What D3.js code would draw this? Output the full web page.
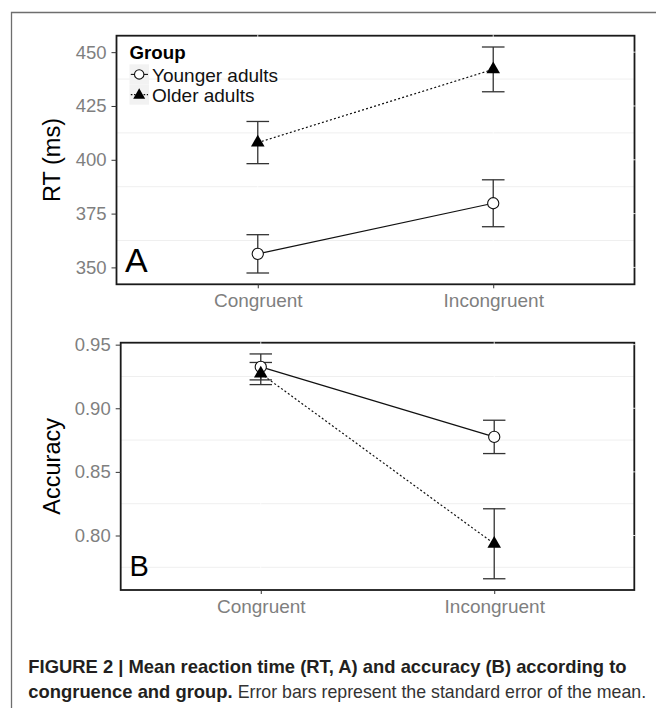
<!DOCTYPE html>
<html><head><meta charset="utf-8">
<script src="https://cdn.jsdelivr.net/npm/d3@7"></script>
<style>body{margin:0;background:#fff}svg{display:block}</style>
</head><body>
<script>
// ---- data ----
const categories = ["Congruent", "Incongruent"];
const groups = ["Younger adults", "Older adults"];
const rtYounger = [356.3, 379.8];
const rtYoungerSE = [8.9, 10.9];
const rtOlder = [408.0, 442.0];
const rtOlderSE = [9.8, 10.4];
const accYounger = [0.9325, 0.8775];
const accYoungerSE = [0.0102, 0.0131];
const accOlder = [0.9273, 0.7935];
const accOlderSE = [0.0087, 0.0275];
const rtTicks = [350, 375, 400, 425, 450];
const accTicks = [0.80, 0.85, 0.90, 0.95];
const legendTitle = "Group";
const captionBold1 = "FIGURE 2 | Mean reaction time (RT, A) and accuracy (B) according to";
const captionBold2 = "congruence and group.";
const captionRest2 = "Error bars represent the standard error of the mean.";

const FONT = "'Liberation Sans', Arial, Helvetica, sans-serif";
const W = 656, H = 708;
const svg = d3.select("body").append("svg").attr("width", W).attr("height", H)
  .style("font-family", FONT);
svg.append("rect").attr("width", W).attr("height", H).attr("fill", "#fff");

// outer frame (extends beyond right/bottom)
svg.append("path").attr("d", `M11.5,${H + 5}V12.5H${W + 5}`)
  .attr("fill", "none").attr("stroke", "#6e6e6e").attr("stroke-width", 1.3);

function drawSymbol(g, kind, cx, cy, size) {
  if (kind === 0) {
    g.append("circle").attr("cx", cx).attr("cy", cy).attr("r", size)
      .attr("fill", "#fff").attr("stroke", "#111").attr("stroke-width", 1.1);
  } else {
    g.append("path").attr("d", d3.symbol(d3.symbolTriangle, size)())
      .attr("transform", `translate(${cx},${cy})`).attr("fill", "#000");
  }
}

function drawPanel(o) {
  const g = svg.append("g");
  const x = d3.scalePoint().domain(categories).range([o.left, o.right]).padding(0.6);
  const all = [];
  o.series.forEach(s => s.mean.forEach((m, i) => { all.push(m - s.se[i]); all.push(m + s.se[i]); }));
  const lo = d3.min(all), hi = d3.max(all), pad = (hi - lo) * 0.05;
  const y = d3.scaleLinear().domain([lo - pad, hi + pad]).range([o.bottom, o.top]);

  // minor grid
  const step = o.ticks[1] - o.ticks[0];
  const minor = [];
  for (let k = -1; k < o.ticks.length; k++) {
    const t = o.ticks[0] + step * (k + 0.5);
    if (t >= y.domain()[0] && t <= y.domain()[1]) minor.push(t);
  }
  g.selectAll(".minor").data(minor).join("line")
    .attr("x1", o.left).attr("x2", o.right)
    .attr("y1", d => y(d)).attr("y2", d => y(d))
    .attr("stroke", "#efefef").attr("stroke-width", 1);

  // border
  g.append("rect").attr("x", o.left).attr("y", o.top)
    .attr("width", o.right - o.left).attr("height", o.bottom - o.top)
    .attr("fill", "none").attr("stroke", "#1a1a1a").attr("stroke-width", 1.8);

  // white major grid (visible as notches on the border)
  g.selectAll(".majh").data(o.ticks).join("line")
    .attr("x1", o.left + 1.5).attr("x2", o.right + 1.2)
    .attr("y1", d => y(d)).attr("y2", d => y(d))
    .attr("stroke", "#fff").attr("stroke-width", 0.8);
  g.selectAll(".majv").data(categories).join("line")
    .attr("x1", d => x(d)).attr("x2", d => x(d))
    .attr("y1", o.top - 1.2).attr("y2", o.bottom - 1.5)
    .attr("stroke", "#fff").attr("stroke-width", 0.8);

  // axes
  g.append("g").attr("transform", `translate(${o.left},0)`)
    .call(d3.axisLeft(y).tickValues(o.ticks).tickFormat(o.fmt).tickSize(5).tickPadding(5))
    .call(a => {
      a.select(".domain").remove();
      a.selectAll("line").attr("stroke", "#333").attr("stroke-width", 1);
      a.selectAll("text").attr("fill", "#7f7f7f").attr("font-size", 18.5).attr("font-family", FONT);
    });
  g.append("g").attr("transform", `translate(0,${o.bottom})`)
    .call(d3.axisBottom(x).tickSize(4).tickPadding(5.5))
    .call(a => {
      a.select(".domain").remove();
      a.selectAll("line").attr("stroke", "#333").attr("stroke-width", 1);
      a.selectAll("text").attr("fill", "#7f7f7f").attr("font-size", 19).attr("font-family", FONT);
    });

  // axis title
  g.append("text").attr("transform", `translate(59.5,${(o.top + o.bottom) / 2}) rotate(-90)`)
    .attr("text-anchor", "middle").attr("font-size", 23.5).attr("fill", "#000").text(o.title);

  // panel letter
  g.append("text").attr("x", o.letterX).attr("y", o.letterY)
    .attr("font-size", o.letterSize).attr("fill", "#000").text(o.letter);

  const capHalf = x.step() * 0.048;
  o.series.forEach((s, si) => {
    const pts = categories.map((c, i) => ({ c, m: s.mean[i], se: s.se[i] }));
    g.append("path").datum(pts)
      .attr("d", d3.line().x(d => x(d.c)).y(d => y(d.m)))
      .attr("fill", "none").attr("stroke", "#111").attr("stroke-width", 1.2)
      .attr("stroke-dasharray", si === 1 ? "2,2.2" : null);
  });
  o.series.forEach((s, si) => {
    categories.forEach((c, i) => {
      const cx = x(c), y1 = y(s.mean[i] - s.se[i]), y2 = y(s.mean[i] + s.se[i]);
      const eb = g.append("g").attr("stroke", "#333").attr("stroke-width", 1.3);
      eb.append("line").attr("x1", cx).attr("x2", cx).attr("y1", y1).attr("y2", y2);
      eb.append("line").attr("x1", cx - capHalf).attr("x2", cx + capHalf).attr("y1", y1).attr("y2", y1);
      eb.append("line").attr("x1", cx - capHalf).attr("x2", cx + capHalf).attr("y1", y2).attr("y2", y2);
    });
  });
  o.series.forEach((s, si) => {
    categories.forEach((c, i) => {
      drawSymbol(g, si, x(c), y(s.mean[i]), si === 0 ? 5.6 : 80);
    });
  });
  return g;
}

drawPanel({
  left: 116.5, right: 634.5, top: 35.7, bottom: 284.3,
  ticks: rtTicks, fmt: d3.format("d"), title: "RT (ms)",
  letter: "A", letterX: 125, letterY: 271.5, letterSize: 34,
  series: [{ mean: rtYounger, se: rtYoungerSE }, { mean: rtOlder, se: rtOlderSE }]
});
drawPanel({
  left: 120.7, right: 634.3, top: 342.7, bottom: 590,
  ticks: accTicks, fmt: d3.format(".2f"), title: "Accuracy",
  letter: "B", letterX: 129.5, letterY: 575.5, letterSize: 29,
  series: [{ mean: accYounger, se: accYoungerSE }, { mean: accOlder, se: accOlderSE }]
});

// legend
const lg = svg.append("g");
lg.append("text").attr("x", 129.5).attr("y", 59.3).attr("font-size", 18.7)
  .attr("font-weight", "bold").attr("fill", "#000").text(legendTitle);
groups.forEach((gname, i) => {
  const ky = 64.3 + i * 20.2;
  lg.append("rect").attr("x", 129.5).attr("y", ky).attr("width", 19.5).attr("height", 20.2).attr("fill", "#f2f2f2");
  lg.append("line").attr("x1", 130.8).attr("x2", 148).attr("y1", ky + 10.1).attr("y2", ky + 10.1)
    .attr("stroke", "#111").attr("stroke-width", 1.1).attr("stroke-dasharray", i === 1 ? "1.6,1.6" : null);
  drawSymbol(lg, i, 139.2, ky + 10.1 + (i === 1 ? 0.6 : 0), i === 0 ? 4.7 : 62);
  lg.append("text").attr("x", 152).attr("y", ky + 17.8).attr("font-size", 19).attr("fill", "#111").text(gname);
});

// caption: fit each piece by font size (no glyph squeezing)
function fitText(sel, maxW, fs) {
  sel.attr("font-size", fs);
  const w = sel.node().getComputedTextLength();
  if (w > maxW) sel.attr("font-size", fs * maxW / w);
  return Math.min(w, maxW);
}
const cap = svg.append("g").attr("fill", "#231f20");
const c1 = cap.append("text").attr("x", 28.3).attr("y", 673.3).attr("font-weight", "bold").text(captionBold1);
fitText(c1, 600, 18.4);
const b2 = cap.append("text").attr("x", 28.3).attr("y", 697.5).attr("font-weight", "bold").text(captionBold2);
const bw = fitText(b2, 205, 18.4);
const rx = 28.3 + bw + 5;
const r2 = cap.append("text").attr("x", rx).attr("y", 697.5).attr("fill", "#333").text(captionRest2);
fitText(r2, 646 - rx, 18.4);
</script>
</body></html>
